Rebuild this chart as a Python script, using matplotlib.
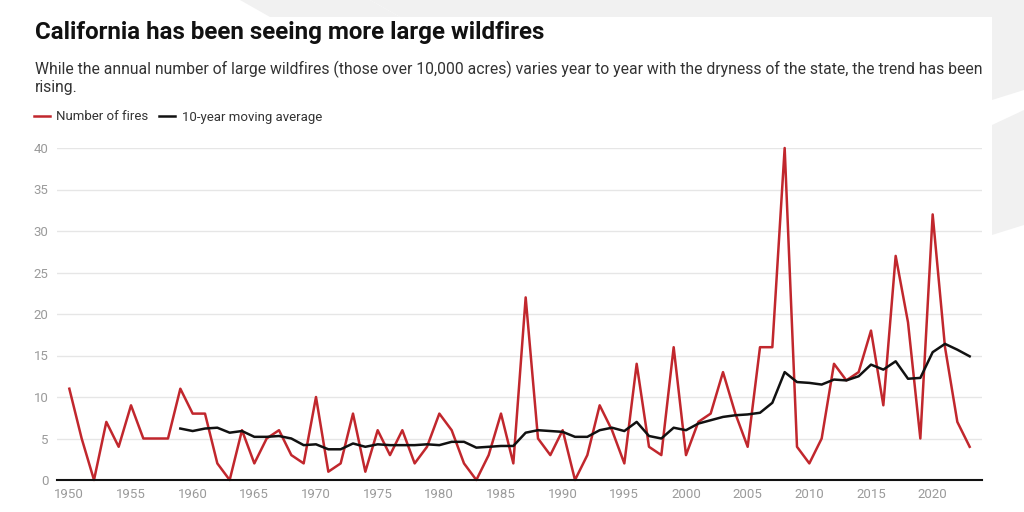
import numpy as np
import matplotlib.pyplot as plt
from matplotlib.patches import Polygon

plt.rcParams["font.family"] = ["Roboto", "DejaVu Sans"]

years = list(range(1950, 2024))
fires = [
    11, 5, 0, 7, 4, 9, 5, 5, 5, 11,
    8, 8, 2, 0, 6, 2, 5, 6, 3, 2,
    10, 1, 2, 8, 1, 6, 3, 6, 2, 4,
    8, 6, 2, 0, 3, 8, 2, 22, 5, 3,
    6, 0, 3, 9, 6, 2, 14, 4, 3, 16,
    3, 7, 8, 13, 8, 4, 16, 16, 40, 4,
    2, 5, 14, 12, 13, 18, 9, 27, 19, 5,
    32, 16, 7, 4,
]
avg_years = list(range(1959, 2024))
moving_avg = [
    6.2, 5.9, 6.2, 6.3, 5.7, 5.9, 5.2, 5.2, 5.3, 5.0,
    4.2, 4.3, 3.7, 3.7, 4.4, 4.0, 4.3, 4.2, 4.2, 4.2,
    4.3, 4.2, 4.6, 4.6, 3.9, 4.0, 4.1, 4.1, 5.7, 6.0,
    5.9, 5.8, 5.2, 5.2, 6.0, 6.3, 5.9, 7.0, 5.3, 5.0,
    6.3, 6.0, 6.8, 7.2, 7.6, 7.8, 7.9, 8.1, 9.3, 13.0,
    11.8, 11.7, 11.5, 12.1, 12.0, 12.5, 13.9, 13.3, 14.3, 12.2,
    12.3, 15.4, 16.4, 15.7, 14.9,
]
y_ticks = [0, 5, 10, 15, 20, 25, 30, 35, 40]
x_ticks = list(range(1950, 2025, 5))

RED = "#c1272d"
BLACK = "#111111"
W, H = 1024, 512

fig = plt.figure(figsize=(W / 100, H / 100), dpi=100)
fig.patch.set_facecolor("white")

# light grey decoration around the card
bg = fig.add_axes([0, 0, 1, 1], zorder=-10)
bg.set_xlim(0, W)
bg.set_ylim(H, 0)
bg.axis("off")
grey = "#f1f1f1"
for pts in [
    [(240, 0), (370, 0), (400, 17), (270, 17)],
    [(370, 0), (1024, 0), (1024, 17), (400, 17)],
    [(992, 17), (1024, 17), (1024, 90), (992, 100)],
    [(992, 125), (1024, 110), (1024, 225), (992, 235)],
]:
    bg.add_patch(Polygon(pts, closed=True, color=grey, lw=0))

ax = fig.add_axes([57 / W, 1 - 480 / H, (982 - 57) / W, (480 - 148) / H])
ax.plot(years, fires, color=RED, lw=1.8, clip_on=False, label="Number of fires", zorder=3)
ax.plot(avg_years, moving_avg, color=BLACK, lw=1.8, clip_on=False,
        label="10-year moving average", zorder=4)

ax.set_xlim(1949, 2024)
ax.set_ylim(0, 40)
ax.set_yticks(y_ticks)
ax.set_xticks(x_ticks)
ax.grid(axis="y", color="#e6e6e6", lw=1)
ax.set_axisbelow(True)
for s in ["top", "right", "left"]:
    ax.spines[s].set_visible(False)
ax.spines["bottom"].set_color(BLACK)
ax.spines["bottom"].set_linewidth(1.5)
ax.spines["bottom"].set_zorder(5)
ax.tick_params(axis="both", length=0, labelsize=9.5, labelcolor="#9a9a9a")
ax.tick_params(axis="y", pad=6)
ax.tick_params(axis="x", pad=6)

fig.text(35 / W, 1 - 32 / H, "California has been seeing more large wildfires",
         fontsize=17.4, fontweight="bold", color="#111111", va="center")
fig.text(35 / W, 1 - 78 / H,
         "While the annual number of large wildfires (those over 10,000 acres) varies year to year "
         "with the dryness of the state, the trend has been\nrising.",
         fontsize=11.3, color="#333333", va="center", linespacing=1.2)

fig.legend(loc="center left", bbox_to_anchor=(22 / W, 1 - 117 / H), ncol=2,
           frameon=False, fontsize=9.5, handlelength=1.2, handletextpad=0.5,
           columnspacing=0.8, labelcolor="#333333")

fig.savefig("out.png", dpi=100)
